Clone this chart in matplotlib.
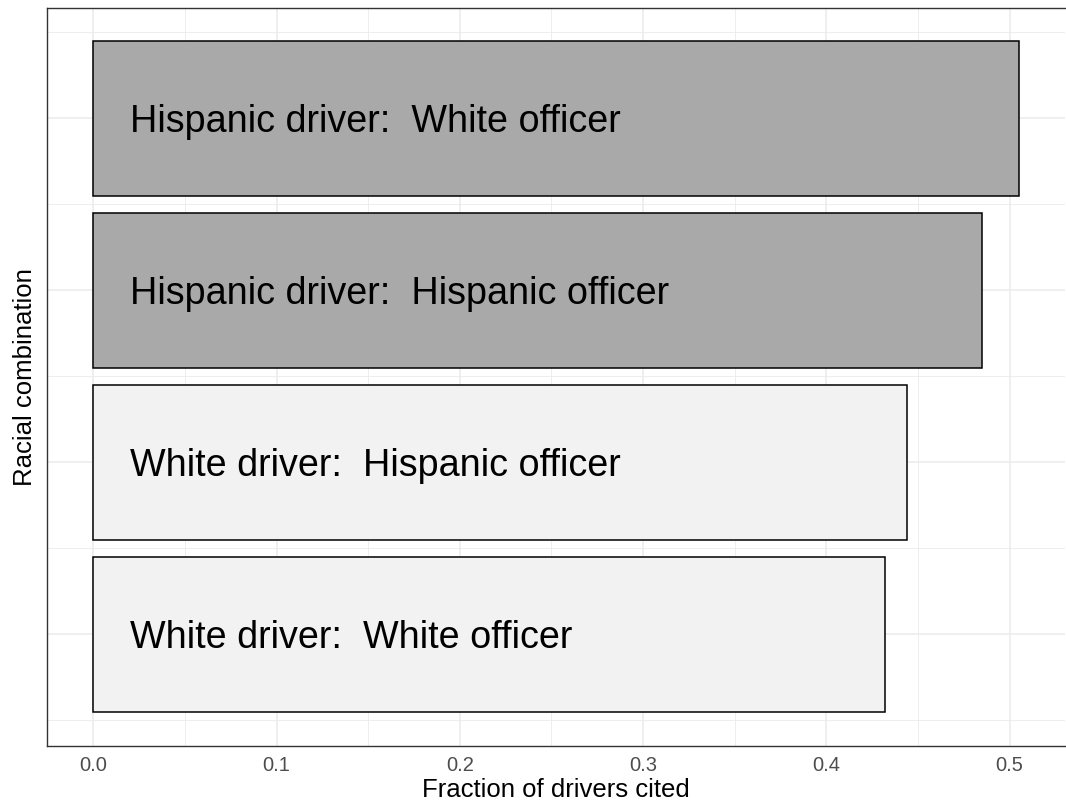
import matplotlib
matplotlib.use("Agg")
import matplotlib.pyplot as plt
from matplotlib.ticker import MultipleLocator

plt.rcParams['font.family'] = ['Liberation Sans', 'DejaVu Sans']

# data, bottom to top
combos = ['White driver:  White officer',
          'White driver:  Hispanic officer',
          'Hispanic driver:  Hispanic officer',
          'Hispanic driver:  White officer']
frac_cited = [0.432, 0.4443, 0.4847, 0.505]
driver_hispanic = [False, False, True, True]

ypos = list(range(1, len(combos) + 1))
colors = ['#A9A9A9' if h else '#F2F2F2' for h in driver_hispanic]

fig = plt.figure(figsize=(10.66, 8.05), dpi=100)
ax = fig.add_axes([47 / 1066, 59 / 805, 1018 / 1066, 738 / 805])

ax.barh(ypos, frac_cited, height=0.9, color=colors, edgecolor='black',
        linewidth=1.1, zorder=3)

# labels inside bars (baseline shifted so capitals sit centred)
for y, lab in zip(ypos, combos):
    ax.text(0.02, y - 0.08, lab, fontsize=27.2, va='baseline', ha='left',
            color='black', zorder=4)

ax.set_xlim(-0.02525, 0.53025)
ax.set_ylim(0.35, 4.64)

ax.xaxis.set_major_locator(MultipleLocator(0.1))
ax.xaxis.set_minor_locator(MultipleLocator(0.05))
ax.set_yticks(ypos)
ax.set_yticks([0.5, 1.5, 2.5, 3.5, 4.5], minor=True)
ax.set_yticklabels([])
ax.set_xticklabels(['%.1f' % v for v in ax.get_xticks()])

ax.grid(which='major', color='#EBEBEB', linewidth=1.1, zorder=0)
ax.grid(which='minor', color='#EBEBEB', linewidth=0.6, zorder=0)
ax.set_axisbelow(True)

ax.tick_params(axis='both', which='both', length=0)
ax.tick_params(axis='x', pad=7, labelsize=14.5, labelcolor='#4D4D4D')

for side in ['left', 'bottom', 'top']:
    ax.spines[side].set_color('#333333')
    ax.spines[side].set_linewidth(1.0)
ax.spines['right'].set_visible(False)

ax.set_xlabel('Fraction of drivers cited', fontsize=18.5, labelpad=2)
ax.set_ylabel('Racial combination', fontsize=18.5, labelpad=4)

fig.savefig('out.png', dpi=100)
